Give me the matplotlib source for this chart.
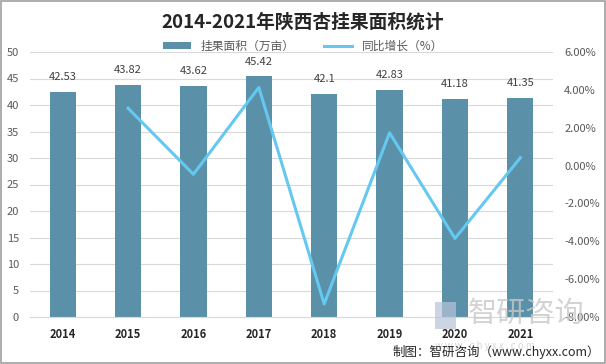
import matplotlib.pyplot as plt
from matplotlib.patches import Rectangle, Patch
from matplotlib.lines import Line2D
from matplotlib.ticker import FuncFormatter

plt.rcParams['font.family'] = ['Noto Sans CJK SC', 'DejaVu Sans']

years = ['2014', '2015', '2016', '2017', '2018', '2019', '2020', '2021']
area = [42.53, 43.82, 43.62, 45.42, 42.1, 42.83, 41.18, 41.35]
area_labels = ['42.53', '43.82', '43.62', '45.42', '42.1', '42.83', '41.18', '41.35']
growth_years = ['2015', '2016', '2017', '2018', '2019', '2020', '2021']
growth = [3.03, -0.46, 4.13, -7.31, 1.73, -3.85, 0.41]

bar_color = '#5b91a8'
line_color = '#64c8f0'
tick_color = '#595959'

fig = plt.figure(figsize=(6.06, 3.64), dpi=100)
ax = fig.add_axes([30 / 606, 1 - 317 / 364, 523 / 606, 265 / 364])

x = list(range(len(years)))
ax.bar(x, area, width=0.4, color=bar_color, zorder=2)
for xi, v, lab in zip(x, area, area_labels):
    ax.annotate(lab, (xi, v), xytext=(0, 7), textcoords='offset points',
                ha='center', va='bottom', fontsize=8, color='#404040')

ax.set_ylim(0, 50)
ax.set_yticks(range(0, 51, 5))
ax.set_xlim(-0.5, len(years) - 0.5)
ax.set_xticks(x)
ax.set_xticklabels(years, fontsize=8, fontweight='bold', color='#262626')
ax.grid(axis='y', color='#d9d9d9', linewidth=0.8, zorder=0)
ax.tick_params(axis='y', length=0, labelsize=8, labelcolor=tick_color, pad=8)
ax.tick_params(axis='x', length=0, pad=8)
for s in ax.spines.values():
    s.set_visible(False)
ax.spines['bottom'].set_visible(True)
ax.spines['bottom'].set_color('#d9d9d9')

ax2 = ax.twinx()
gx = [years.index(y) for y in growth_years]
ax2.plot(gx, growth, color=line_color, linewidth=2.2, zorder=3)
ax2.set_ylim(-8, 6)
ax2.set_yticks(range(-8, 7, 2))
ax2.yaxis.set_major_formatter(FuncFormatter(lambda v, p: '%.2f%%' % v))
ax2.tick_params(axis='y', length=0, labelsize=8, labelcolor=tick_color, pad=8)
for s in ax2.spines.values():
    s.set_visible(False)

fig.text(0.5, 1 - 22 / 364, '2014-2021年陕西杏挂果面积统计', ha='center', va='center',
         fontsize=13.5, fontweight='bold', color='#262626')

handles = [Patch(facecolor=bar_color), Line2D([0], [0], color=line_color, linewidth=2.2)]
fig.legend(handles, ['挂果面积（万亩）', '同比增长（%）'], loc='center',
           bbox_to_anchor=(0.5, 1 - 46 / 364), ncol=2, frameon=False, fontsize=8.5,
           handlelength=2.4, handleheight=0.6, columnspacing=2.5, labelcolor='#595959')

# watermark
fig.text(0.772, 1 - 314 / 364, '智研咨询', fontsize=21, color='#c8c8c8', alpha=0.8,
         ha='left', va='center')
fig.text(0.718, 1 - 346 / 364, 'w w w . c h y x x . c o m', fontsize=7, color='#d8d8d8',
         ha='left', va='center')
fig.patches.append(Rectangle((0.718, 1 - 329 / 364), 0.034, 0.075, transform=fig.transFigure,
                             facecolor='#b8c4d8', alpha=0.7, edgecolor='none'))

fig.text(0.99, 1 - 352 / 364, '制图：智研咨询（www.chyxx.com）', ha='right', va='center',
         fontsize=9, color='#262626')

fig.patches.append(Rectangle((0.001, 0.002), 0.997, 0.995, transform=fig.transFigure,
                             fill=False, edgecolor='#a0a0a0', linewidth=1.2))

fig.savefig('out.png', dpi=100)
